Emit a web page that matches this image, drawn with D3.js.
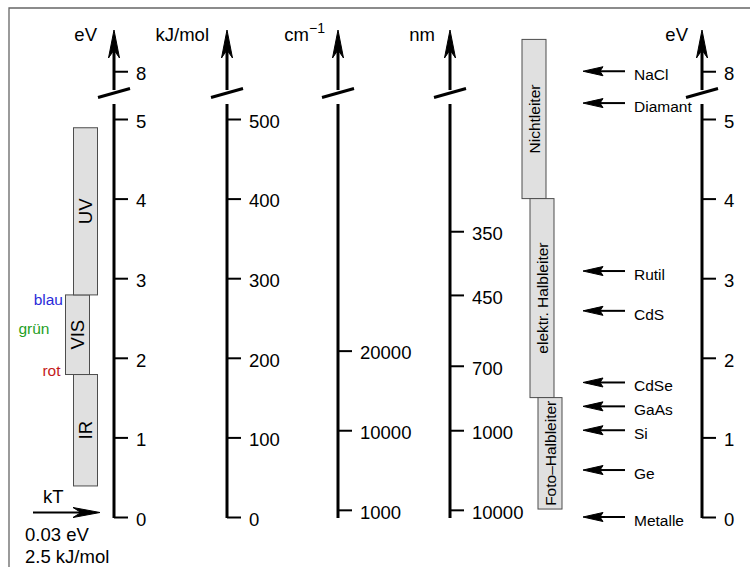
<!DOCTYPE html>
<html>
<head>
<meta charset="utf-8">
<script src="https://cdn.jsdelivr.net/npm/d3@7"></script>
<style>
  body { margin: 0; background: #fff; }
  svg { display: block; font-family: "Liberation Sans", Arial, Helvetica, sans-serif; }
</style>
</head>
<body>
<div id="chart"></div>
<script>
// Energy scales side by side: eV, kJ/mol, cm^-1, nm, band gaps

const evTicks = [0, 1, 2, 3, 4, 5, 8];
const kjTicks = [0, 100, 200, 300, 400, 500];
const cmTicks = [1000, 10000, 20000];
const cmTickEV = [0.09, 1.09, 2.09];
const nmTicks = [10000, 1000, 700, 450, 350];
const nmTickEV = [0.09, 1.09, 1.90, 2.79, 3.59];

const spectrumNames = ["IR", "VIS", "UV"];
const spectrumLo = [0.39, 1.79, 2.79];
const spectrumHi = [1.79, 2.79, 4.89];

const colourNames = ["blau", "grün", "rot"];
const colourEV = [2.74, 2.37, 1.85];

const classNames = ["Nichtleiter", "elektr. Halbleiter", "Foto\u2013Halbleiter"];
const classLo = [4.0, 1.5, 0.1];
const classHi = [8.4, 4.0, 1.5];

const materials = ["NaCl", "Diamant", "Rutil", "CdS", "CdSe", "GaAs", "Si", "Ge", "Metalle"];
const materialEV = [8.0, 5.2, 3.09, 2.59, 1.69, 1.39, 1.09, 0.59, 0];

const width = 750, height = 567;
const font = 18.5, smallFont = 15.5;

const svg = d3.select("#chart").append("svg")
  .attr("width", width)
  .attr("height", height);

// broken eV scale: 5.3 .. 7.7 eV is cut out
const pxPerEV = 79.6, yZero = 517, breakLo = 5.3, breakHi = 7.7;
const yBreak = yZero - breakLo * pxPerEV;
const y = d3.scaleLinear()
  .domain([0, breakLo, breakHi, 9])
  .range([yZero, yBreak, yBreak, yBreak - (9 - breakHi) * pxPerEV]);

const kj = d3.scaleLinear().domain([0, 500]).range([y(0), y(5)]);
const cm = d3.scaleLinear().domain(cmTicks).range(cmTickEV.map(y));
const nm = d3.scaleLinear().domain(nmTicks).range(nmTickEV.map(y));

// frame (top and left only)
svg.append("path")
  .attr("d", `M9,${height} V8 H${width}`)
  .attr("fill", "none")
  .attr("stroke", "#666")
  .attr("stroke-width", 1.3);

function stealth(g, x, yy, dir, len, half, notch) {
  let d;
  if (dir === "up") d = `M${x},${yy} L${x + half},${yy + len} L${x},${yy + len - notch} L${x - half},${yy + len} Z`;
  else if (dir === "left") d = `M${x},${yy} L${x + len},${yy - half} L${x + len - notch},${yy} L${x + len},${yy + half} Z`;
  else d = `M${x},${yy} L${x - len},${yy - half} L${x - len + notch},${yy} L${x - len},${yy + half} Z`;
  g.append("path").attr("d", d)
    .attr("fill", "#000").attr("stroke", "#000")
    .attr("stroke-width", 1).attr("stroke-linejoin", "round");
}

const axes = [
  { title: "eV", x: 114, gap: 17, scale: y, ticks: evTicks },
  { title: "kJ/mol", x: 227, gap: 18, scale: kj, ticks: kjTicks },
  { title: "cm", sup: "\u22121", x: 338, gap: 13, scale: cm, ticks: cmTicks },
  { title: "nm", x: 450, gap: 15, scale: nm, ticks: nmTicks },
  { title: "eV", x: 702, gap: 14, scale: y, ticks: evTicks },
];

const arrowTip = 30, lowerTop = 104, upperBottom = 90, breakY = 93;

axes.forEach(a => {
  const g = svg.append("g").attr("transform", `translate(${a.x},0)`);
  g.call(d3.axisRight(a.scale).tickValues(a.ticks).tickFormat(d3.format("d"))
    .tickSize(14).tickPadding(8));
  g.attr("font-family", null).attr("font-size", null).attr("fill", "#000");
  g.select(".domain").remove();
  g.selectAll(".tick line").attr("stroke-width", 2);
  g.selectAll(".tick text").attr("font-size", font).attr("dy", "0.45em");

  // lower and upper segments
  g.append("line").attr("x1", 0).attr("x2", 0)
    .attr("y1", lowerTop).attr("y2", yZero + 1)
    .attr("stroke", "#000").attr("stroke-width", 3);
  g.append("line").attr("x1", 0).attr("x2", 0)
    .attr("y1", arrowTip + 20).attr("y2", upperBottom)
    .attr("stroke", "#000").attr("stroke-width", 3);
  // break mark
  g.append("line")
    .attr("x1", -16).attr("y1", breakY + 4.5)
    .attr("x2", 16).attr("y2", breakY - 4.5)
    .attr("stroke", "#000").attr("stroke-width", 3);
  stealth(g, 0, arrowTip, "up", 28, 5.5, 8);

  const t = g.append("text")
    .attr("x", -a.gap).attr("y", 41)
    .attr("text-anchor", "end")
    .attr("font-size", font)
    .attr("fill", "#000")
    .text(a.title);
  if (a.sup) {
    t.append("tspan").attr("font-size", 14).attr("dy", -8).text(a.sup);
  }
});

// spectral ranges (left)
const spectrumX = { IR: 73.5, VIS: 65.5, UV: 73.5 };
const barW = 24;
spectrumNames.forEach((n, i) => {
  const x0 = spectrumX[n];
  svg.append("rect")
    .attr("x", x0).attr("y", y(spectrumHi[i]))
    .attr("width", barW).attr("height", y(spectrumLo[i]) - y(spectrumHi[i]))
    .attr("fill", "#e0e0e0").attr("stroke", "#4d4d4d").attr("stroke-width", 1);
  const cx = x0 + barW / 2, cy = (y(spectrumHi[i]) + y(spectrumLo[i])) / 2;
  svg.append("text")
    .attr("transform", `translate(${cx},${cy}) rotate(-90)`)
    .attr("text-anchor", "middle")
    .attr("dominant-baseline", "central")
    .attr("font-size", font)
    .text(n);
});

const colourFill = { "blau": "#2b2bd9", "grün": "#1f9f1f", "rot": "#c41a1a" };
const colourX = { "blau": 63, "grün": 49.5, "rot": 60.5 };
colourNames.forEach((n, i) => {
  svg.append("text")
    .attr("x", colourX[n]).attr("y", y(colourEV[i]))
    .attr("dy", "0.38em")
    .attr("text-anchor", "end")
    .attr("font-size", smallFont)
    .attr("fill", colourFill[n])
    .text(n);
});

// kT
const kt = svg.append("g");
kt.append("line").attr("x1", 33).attr("x2", 90).attr("y1", 512.5).attr("y2", 512.5)
  .attr("stroke", "#000").attr("stroke-width", 2);
stealth(kt, 100, 512.5, "right", 27, 5, 8);
kt.append("text").attr("x", 43).attr("y", 503).attr("font-size", font).text("kT");
kt.append("text").attr("x", 25).attr("y", 541).attr("font-size", font).text("0.03 eV");
kt.append("text").attr("x", 25).attr("y", 563).attr("font-size", font).text("2.5 kJ/mol");

// material classes (right)
const classX = [522, 530, 538];
classNames.forEach((n, i) => {
  const x0 = classX[i];
  svg.append("rect")
    .attr("x", x0).attr("y", y(classHi[i]))
    .attr("width", barW).attr("height", y(classLo[i]) - y(classHi[i]))
    .attr("fill", "#e0e0e0").attr("stroke", "#4d4d4d").attr("stroke-width", 1);
  const cx = x0 + barW / 2, cy = (y(classHi[i]) + y(classLo[i])) / 2;
  svg.append("text")
    .attr("transform", `translate(${cx},${cy}) rotate(-90)`)
    .attr("text-anchor", "middle")
    .attr("dominant-baseline", "central")
    .attr("font-size", smallFont)
    .text(n);
});

// band gap arrows
materials.forEach((m, i) => {
  const yy = y(materialEV[i]);
  svg.append("line").attr("x1", 595).attr("x2", 625).attr("y1", yy).attr("y2", yy)
    .attr("stroke", "#000").attr("stroke-width", 2);
  stealth(svg, 583, yy, "left", 20, 4.5, 3);
  svg.append("text")
    .attr("x", 634).attr("y", yy)
    .attr("dy", "0.58em")
    .attr("font-size", smallFont)
    .text(m);
});
</script>
</body>
</html>
